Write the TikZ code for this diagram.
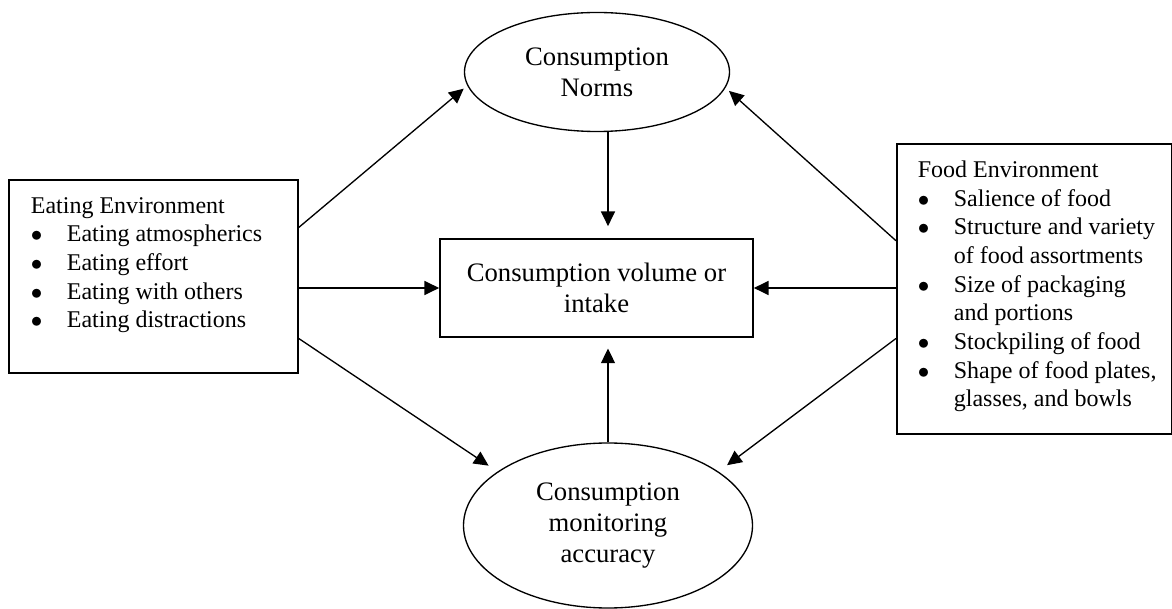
\documentclass[tikz,border=0pt]{standalone}
\usepackage{fontspec}
\setmainfont{Liberation Serif}
\usetikzlibrary{calc,shapes.geometric,arrows.meta}

\newcommand{\listfont}{\fontsize{18}{21.5}\selectfont}
\newcommand{\dotmark}{$\bullet$}

\tikzset{
  box/.style={draw, rectangle, line width=1.3pt, inner xsep=0pt, inner ysep=10pt, font=\listfont},
  mainbox/.style={draw, rectangle, line width=1.3pt, inner sep=0pt, align=center, font=\fontsize{20}{23}\selectfont},
  oval/.style={draw, ellipse, line width=1pt, inner sep=0pt, align=center, font=\fontsize{20}{23}\selectfont},
  link/.style={line width=1pt, -{Triangle[length=11pt,width=10.5pt]}}
}

\begin{document}
\begin{tikzpicture}[x=0.75pt, y=-0.75pt]

% Fix the page size
\useasboundingbox (0,0) rectangle (1172,609);

% Draw the two ovals and the middle box
\node[oval, minimum width=198.75pt, minimum height=89.25pt] (norms) at (597,72) {Consumption\\Norms};
\node[mainbox, minimum width=234.75pt, minimum height=73.5pt] (intake) at (596.5,288) {Consumption volume or\\intake};
\node[oval, minimum width=216.75pt, minimum height=123.75pt] (monitor) at (608,525.5) {Consumption\\monitoring\\accuracy};

% Draw left box (eating environment)
\node[box, anchor=north west] (eat) at (8,179) {%
\begin{tabular}{@{\hspace{16.5pt}}p{27pt}@{}p{173.25pt}@{}}
\multicolumn{2}{@{\hspace{16.5pt}}l}{Eating Environment}\\
\dotmark & Eating atmospherics\\
\dotmark & Eating effort\\
\dotmark & Eating with others\\
\dotmark & Eating distractions\\[17.25pt]
\end{tabular}};

% Draw right box (food environment)
\node[box, anchor=north west] (food) at (896,143.3) {%
\begin{tabular}{@{\hspace{15.75pt}}p{27pt}@{}p{163.5pt}@{}}
\multicolumn{2}{@{\hspace{15.75pt}}l}{Food Environment}\\
\dotmark & Salience of food\\
\dotmark & Structure and variety\\
 & of food assortments\\
\dotmark & Size of packaging\\
 & and portions\\
\dotmark & Stockpiling of food\\
\dotmark & Shape of food plates,\\
 & glasses, and bowls\\[4pt]
\end{tabular}};

% Arrows from eating environment
\draw[link, shorten >=3.5pt] ($(eat.north east)!0.249!(eat.south east)$) -- (norms.186);
\draw[link] (eat.east |- intake.west) -- (intake.west);
\draw[link, shorten >=8pt] ($(eat.north east)!0.819!(eat.south east)$) -- (monitor.154);

% Arrows from food environment
\draw[link, shorten >=3.5pt] ($(food.north west)!0.334!(food.south west)$) -- (norms.353);
\draw[link] (food.west |- intake.east) -- (intake.east);
\draw[link, shorten >=8pt] ($(food.north west)!0.669!(food.south west)$) -- (monitor.26);

% Arrows into consumption volume
\draw[link, shorten >=9pt] (monitor.north |- norms.south) -- (monitor.north |- intake.north);
\draw[link, shorten >=8pt] (monitor.north) -- (monitor.north |- intake.south);

\end{tikzpicture}
\end{document}
